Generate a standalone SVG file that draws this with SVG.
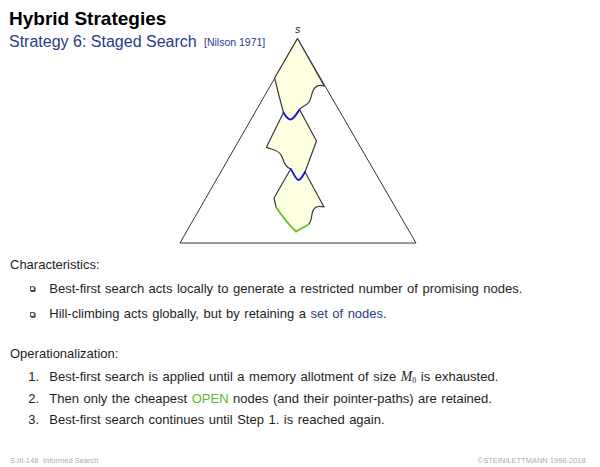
<svg xmlns="http://www.w3.org/2000/svg" width="600" height="467" viewBox="0 0 600 467">
<style>
text{font-family:"Liberation Sans",Arial,Helvetica,sans-serif;fill:#1e1e1e}
.body{font-size:13px;word-spacing:0.9px}
.blue{fill:#2b3a8a}
.green{fill:#5cb82e}
.foot{font-size:7.5px;fill:#ababab}
.region{fill:#fefee0;stroke:none}
.edge{fill:none;stroke:#3a3a3a;stroke-width:1.2;stroke-linejoin:round;stroke-linecap:round}
.frontier{fill:none;stroke:#1515f0;stroke-width:1.9;stroke-linecap:round}
.goal{fill:none;stroke:#6cc030;stroke-width:1.9;stroke-linecap:round}
.bullet{fill:#fff;stroke:#222;stroke-width:0.8}
</style>
<rect width="600" height="467" fill="#fff"/>
<g id="header">
<text x="9" y="25" style="font-size:19px;font-weight:bold;fill:#000">Hybrid Strategies</text>
<text x="9" y="46.5" class="blue" style="font-size:16px">Strategy 6: Staged Search</text>
<text x="204" y="46" class="blue" style="font-size:10.5px">[Nilson 1971]</text>
</g>
<g id="search-space">
<path d="M297.5 38.5 L180 243 L416 243 Z" fill="none" stroke="#333" stroke-width="1"/>
<text x="297.5" y="33" text-anchor="middle" style="font-size:10.5px;font-style:italic">s</text>
</g>
<g id="stage1">
<path class="region" d="M297.5 38.5 L324.3 86 C318 84 314 87 312.5 92 C310.5 99 310 103 305 105.5 C302 107 300.5 108 299.5 109.5 C296.5 114 293.5 119.5 290.5 119.5 C287.5 119.5 285 115 283.5 112.5 C280 100 277 88 274.6 78 Z"/>
<path class="edge" d="M274.6 78 L297.5 38.5 L324.3 86 C318 84 314 87 312.5 92 C310.5 99 310 103 305 105.5 C302 107 300.5 108 299.5 109.5 M283.5 112.5 C280 100 277 88 274.6 78"/>
</g>
<g id="stage2">
<path class="region" d="M283.5 112.5 C285 115 287.5 119.5 290.5 119.5 C293.5 119.5 296.5 114 299.5 109.5 L316.5 141 L305 172 C302.5 176 301 180 298.5 180 C296 180 293 172 290.7 169 C286 167.5 284 163 282.5 158 C281 153 278 151 273 149.5 C270 148.5 267.5 148 266.5 147 Z"/>
<path class="edge" d="M299.5 109.5 L316.5 141 L305 172 M290.7 169 C286 167.5 284 163 282.5 158 C281 153 278 151 273 149.5 C270 148.5 267.5 148 266.5 147 L283.5 112.5"/>
</g>
<g id="stage3">
<path class="region" d="M290.7 169 C293 172 296 180 298.5 180 C301 180 302.5 176 305 172 L324 207 C318.5 205.5 314 207 312.5 212 C311 218 311.5 222 308.5 224.5 L296 231.5 C290 226 282 216 276 207 L274 198 Z"/>
<path class="edge" d="M305 172 L324 207 C318.5 205.5 314 207 312.5 212 C311 218 311.5 222 308.5 224.5 M276 207 L274 198 L290.7 169"/>
</g>
<g id="connectors">
<path class="frontier" d="M283.5 112.5 C285 115 287.5 119.5 290.5 119.5 C293.5 119.5 296.5 114 299.5 109.5"/>
<path class="frontier" d="M290.7 169 C293 172 296 180 298.5 180 C301 180 302.5 176 305 172"/>
<path class="goal" d="M308.5 224.5 L296 231.5 C290 226 282 216 276 207"/>
</g>
<g id="characteristics">
<text x="10" y="269" class="body">Characteristics:</text>
<rect class="bullet" x="30.4" y="286.8" width="3.8" height="3.8"/>
<path d="M31 291.3 H35 V287.3" fill="none" stroke="#222" stroke-width="1"/>
<text x="49.3" y="292.7" class="body">Best-first search acts locally to generate a restricted number of promising nodes.</text>
<rect class="bullet" x="30.4" y="312.6" width="3.8" height="3.8"/>
<path d="M31 317.1 H35 V313.1" fill="none" stroke="#222" stroke-width="1"/>
<text x="49.3" y="318.4" class="body">Hill-climbing acts globally, but by retaining a <tspan class="blue">set of nodes</tspan>.</text>
</g>
<g id="operationalization">
<text x="10" y="358.3" class="body">Operationalization:</text>
<text x="28.3" y="380.7" class="body">1.</text>
<text x="49.3" y="380.7" class="body">Best-first search is applied until a memory allotment of size <tspan style="font-family:'Liberation Serif',serif;font-style:italic;font-size:13.8px">M</tspan><tspan dy="2.5" style="font-family:'Liberation Serif',serif;font-size:8px">0</tspan><tspan dy="-2.5"> is exhausted.</tspan></text>
<text x="28.3" y="403.3" class="body">2.</text>
<text x="49.3" y="403.3" class="body">Then only the cheapest <tspan class="green">OPEN</tspan> nodes (and their pointer-paths) are retained.</text>
<text x="28.3" y="424.3" class="body">3.</text>
<text x="49.3" y="424.3" class="body">Best-first search continues until Step 1. is reached again.</text>
</g>
<g id="footer">
<text x="10" y="462.7" class="foot">S:III-148</text>
<text x="43" y="462.7" class="foot">Informed Search</text>
<text x="585.7" y="462.7" text-anchor="end" class="foot">©STEIN/LETTMANN 1998-2018</text>
</g>
</svg>
